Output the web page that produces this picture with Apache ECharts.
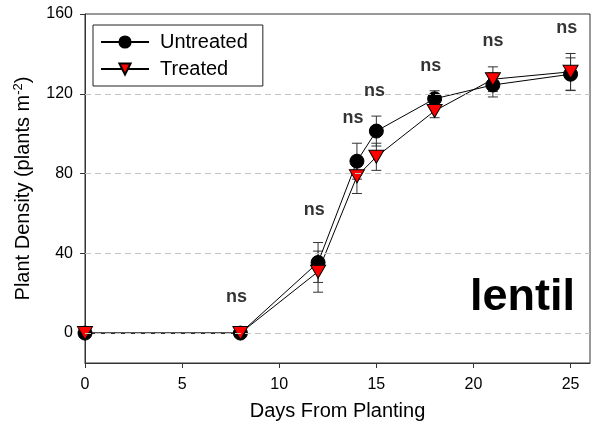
<!DOCTYPE html>
<html>
<head>
<meta charset="utf-8">
<script src="https://cdn.jsdelivr.net/npm/echarts@6/dist/echarts.min.js"></script>
<style>
  html, body { margin: 0; padding: 0; background: #fff; }
  #chart { width: 592px; height: 428px; }
</style>
</head>
<body>
<div id="chart"></div>
<script>
// days after planting
const days = [0, 8, 12, 14, 15, 18, 21, 25];

// plant density (plants m-2)
const untreated = [0, 0, 35.4, 86.2, 101.3, 117.5, 124.4, 129.8];
const untreatedErr = [0, 0, 10, 9, 7.5, 4, 6, 8.2];
const treated = [0, 0, 30.8, 78.6, 88.4, 111.4, 127.3, 131];
const treatedErr = [0, 0, 10.3, 8.6, 6.8, 3.4, 6.2, 9.2];

// "ns" annotations (x, y in data units)
const nsX = [7.8, 11.8, 13.8, 14.9, 17.8, 21, 24.8];
const nsY = [18, 61.5, 108, 121.5, 134, 146.5, 153];

const yTicks = [0, 40, 80, 120, 160];
const gridValues = [0, 40, 80, 120];

const font = 'Liberation Sans, Arial, sans-serif';

function pairs(xs, ys) {
  return xs.map((x, i) => [x, ys[i]]);
}

function errData(xs, ys, es) {
  return xs.map((x, i) => [x, ys[i] - es[i], ys[i] + es[i]]);
}

function errorBars(params, api) {
  const x = api.value(0);
  const lo = api.coord([x, api.value(1)]);
  const hi = api.coord([x, api.value(2)]);
  if (hi[1] === lo[1]) return null;
  const cap = 5;
  const style = { stroke: '#333', lineWidth: 1 };
  return {
    type: 'group',
    children: [
      { type: 'line', shape: { x1: lo[0], y1: lo[1], x2: hi[0], y2: hi[1] }, style: style },
      { type: 'line', shape: { x1: lo[0] - cap, y1: lo[1], x2: lo[0] + cap, y2: lo[1] }, style: style },
      { type: 'line', shape: { x1: hi[0] - cap, y1: hi[1], x2: hi[0] + cap, y2: hi[1] }, style: style }
    ]
  };
}

const chart = echarts.init(document.getElementById('chart'), null, { renderer: 'canvas' });

chart.setOption({
  animation: false,
  textStyle: { fontFamily: font },
  grid: {
    left: 85, right: 2, top: 14, bottom: 65,
    show: true, borderColor: '#333', borderWidth: 1
  },
  legend: {
    left: 93, top: 25,
    orient: 'vertical',
    data: ['Untreated', 'Treated'],
    itemWidth: 48, itemHeight: 14, itemGap: 7,
    padding: [7, 15, 7, 7],
    borderColor: '#222', borderWidth: 1, backgroundColor: '#fff',
    textStyle: { fontSize: 20, color: '#000', fontFamily: font, padding: [0, 0, 0, 6] }
  },
  xAxis: {
    type: 'value',
    min: 0, max: 26, interval: 5,
    name: 'Days From Planting',
    nameLocation: 'middle',
    nameGap: 38,
    nameTextStyle: { fontSize: 20, color: '#000', fontFamily: font },
    axisLine: { onZero: false, lineStyle: { color: '#333' } },
    axisTick: { length: 5, lineStyle: { color: '#333' } },
    axisLabel: {
      fontSize: 16, color: '#000', margin: 14,
      showMaxLabel: false
    },
    splitLine: { show: false }
  },
  yAxis: {
    type: 'value',
    min: -15, max: 160,
    name: 'Plant Density (plants m{sup|-2})',
    nameLocation: 'middle',
    nameGap: 50,
    nameTextStyle: {
      fontSize: 20, color: '#000', fontFamily: font,
      rich: {
        sup: { fontSize: 13, color: '#000', fontFamily: font, padding: [0, 0, 10, 0] }
      }
    },
    axisLine: { show: true, onZero: false, lineStyle: { color: '#333' } },
    axisTick: { show: true, length: 5, customValues: yTicks, lineStyle: { color: '#333' } },
    axisLabel: { fontSize: 16, color: '#000', margin: 12, customValues: yTicks },
    splitLine: { show: false }
  },
  graphic: [{
    type: 'text',
    left: 470, top: 275,
    style: { text: 'lentil', font: 'bold 45px ' + font, fill: '#000' }
  }],
  series: [
    {
      name: 'grid',
      type: 'line',
      data: [],
      silent: true,
      z: 1,
      markLine: {
        silent: true,
        symbol: 'none',
        label: { show: false },
        lineStyle: { color: '#c4c4c4', type: [6, 4], width: 1 },
        data: gridValues.map(v => ({ yAxis: v }))
      }
    },
    {
      name: 'UntreatedErr',
      type: 'custom',
      renderItem: errorBars,
      data: errData(days, untreated, untreatedErr),
      z: 2
    },
    {
      name: 'TreatedErr',
      type: 'custom',
      renderItem: errorBars,
      data: errData(days, treated, treatedErr),
      z: 2
    },
    {
      name: 'Untreated',
      type: 'line',
      data: pairs(days, untreated),
      symbol: 'circle',
      symbolSize: 14,
      clip: false,
      itemStyle: { color: '#000', borderColor: '#000', borderWidth: 1 },
      lineStyle: { color: '#000', width: 1 },
      z: 3
    },
    {
      name: 'Treated',
      type: 'line',
      data: pairs(days, treated),
      symbol: 'triangle',
      symbolRotate: 180,
      symbolSize: [15, 13],
      clip: false,
      itemStyle: { color: '#ff0000', borderColor: '#000', borderWidth: 1 },
      lineStyle: { color: '#000', width: 1 },
      z: 4
    },
    {
      name: 'ns',
      type: 'scatter',
      data: pairs(nsX, nsY),
      symbolSize: 1,
      itemStyle: { color: 'rgba(0,0,0,0)' },
      silent: true,
      label: {
        show: true, position: 'inside', formatter: 'ns',
        fontSize: 18, fontWeight: 'bold', color: '#000', fontFamily: font
      },
      z: 5
    }
  ]
});
</script>
</body>
</html>
